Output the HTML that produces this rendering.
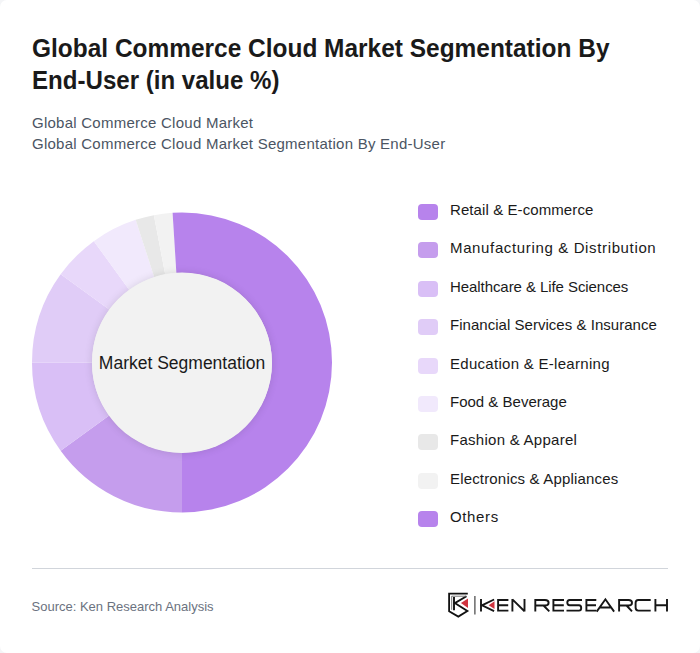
<!DOCTYPE html>
<html><head><meta charset="utf-8">
<style>
html,body{margin:0;padding:0;}
body{width:700px;height:653px;background:#f4f5f7;font-family:"Liberation Sans",sans-serif;position:relative;overflow:hidden;}
.card{position:absolute;left:0;top:0;width:700px;height:653px;background:#fff;border-radius:7px;}
.title{position:absolute;left:32px;top:32px;font-size:26px;font-weight:bold;line-height:32px;color:#1a1a1a;white-space:nowrap;transform-origin:0 0;}
.sub{position:absolute;left:32px;top:112px;font-size:15px;line-height:21px;color:#4b5563;white-space:nowrap;letter-spacing:0.25px;}
svg.abs{position:absolute;left:0;top:0;}
.center{position:absolute;left:92px;top:272.5px;width:180px;height:180px;border-radius:50%;background:#f2f2f2;box-shadow:0 0 8px rgba(0,0,0,0.12);}
.ctext{position:absolute;left:82px;top:353px;width:200px;text-align:center;font-size:17.5px;line-height:20px;color:#1a1a1a;}
.legend{position:absolute;left:418px;top:200px;}
.li{position:absolute;left:0;height:20px;white-space:nowrap;}
.sw{position:absolute;left:0;top:4px;width:20px;height:16px;border-radius:4px;}
.lt{position:absolute;left:32px;top:0;font-size:15px;line-height:20px;color:#1a1a1a;}
.sep{position:absolute;left:32px;top:568px;width:636px;height:1px;background:#d1d5db;}
.src{position:absolute;left:31.5px;top:599px;font-size:13px;line-height:16px;color:#6b7280;}
</style></head><body>
<div class="card"></div>
<div class="title" style="transform:scaleX(0.9405)">Global Commerce Cloud Market Segmentation By</div><div class="title" style="top:64px;transform:scaleX(0.926)">End-User (in value %)</div>
<div class="sub">Global Commerce Cloud Market<br>Global Commerce Cloud Market Segmentation By End-User</div>
<svg class="abs" width="700" height="653" viewBox="0 0 700 653">
<path d="M182.00 212.50A150 150 0 0 1 182.00 512.50L182.00 452.50A90 90 0 0 0 182.00 272.50Z" fill="#b783ec"/>
<path d="M182.00 512.50A150 150 0 0 1 60.65 450.67L109.19 415.40A90 90 0 0 0 182.00 452.50Z" fill="#c59ded"/>
<path d="M60.65 450.67A150 150 0 0 1 32.00 362.50L92.00 362.50A90 90 0 0 0 109.19 415.40Z" fill="#d9bff6"/>
<path d="M32.00 362.50A150 150 0 0 1 60.65 274.33L109.19 309.60A90 90 0 0 0 92.00 362.50Z" fill="#e0ccf7"/>
<path d="M60.65 274.33A150 150 0 0 1 93.83 241.15L129.10 289.69A90 90 0 0 0 109.19 309.60Z" fill="#e8d8fa"/>
<path d="M93.83 241.15A150 150 0 0 1 135.65 219.84L154.19 276.90A90 90 0 0 0 129.10 289.69Z" fill="#f1e9fc"/>
<path d="M135.65 219.84A150 150 0 0 1 153.89 215.16L165.14 274.09A90 90 0 0 0 154.19 276.90Z" fill="#e8e8e8"/>
<path d="M153.89 215.16A150 150 0 0 1 172.58 212.80L176.35 272.68A90 90 0 0 0 165.14 274.09Z" fill="#f2f2f2"/>
<path d="M172.58 212.80A150 150 0 0 1 182.00 212.50L182.00 272.50A90 90 0 0 0 176.35 272.68Z" fill="#b783ec"/>
</svg>
<div class="center"></div>
<div class="ctext">Market Segmentation</div>
<div class="legend">
<div class="li" style="top:0px"><div class="sw" style="background:#b783ec"></div><div class="lt" style="letter-spacing:0.09px">Retail &amp; E-commerce</div></div>
<div class="li" style="top:38.4px"><div class="sw" style="background:#c59ded"></div><div class="lt" style="letter-spacing:0.64px">Manufacturing &amp; Distribution</div></div>
<div class="li" style="top:76.8px"><div class="sw" style="background:#d9bff6"></div><div class="lt" style="letter-spacing:-0.07px">Healthcare &amp; Life Sciences</div></div>
<div class="li" style="top:115.2px"><div class="sw" style="background:#e0ccf7"></div><div class="lt" style="letter-spacing:0.03px">Financial Services &amp; Insurance</div></div>
<div class="li" style="top:153.6px"><div class="sw" style="background:#e8d8fa"></div><div class="lt" style="letter-spacing:0.29px">Education &amp; E-learning</div></div>
<div class="li" style="top:192px"><div class="sw" style="background:#f1e9fc"></div><div class="lt">Food &amp; Beverage</div></div>
<div class="li" style="top:230.4px"><div class="sw" style="background:#e8e8e8"></div><div class="lt" style="letter-spacing:0.27px">Fashion &amp; Apparel</div></div>
<div class="li" style="top:268.8px"><div class="sw" style="background:#f2f2f2"></div><div class="lt" style="letter-spacing:0.17px">Electronics &amp; Appliances</div></div>
<div class="li" style="top:307.2px"><div class="sw" style="background:#b783ec"></div><div class="lt" style="letter-spacing:0.64px">Others</div></div>
</div>
<div class="sep"></div>
<div class="src">Source: Ken Research Analysis</div>
<svg class="abs" width="700" height="653" viewBox="0 0 700 653">
<g fill="none" stroke="#111" stroke-width="1.8" stroke-linejoin="miter">
<path d="M467.8 593.7H449.1V611.2L458.3 616.6L467.4 611L454.8 603.1L466.5 596.3"/>
<path d="M454 597V610.3" stroke-width="1.9"/>
</g>
<path d="M451.7 609.8V596.2H466" fill="none" stroke="#666" stroke-width="0.9"/>
<path d="M460.9 603.1L468 598.6V608Z" fill="#d0343f"/>
<path d="M474.9 596V614.6" stroke="#444" stroke-width="1.2"/>
<g fill="none" stroke="#161616" stroke-width="1.9">
<path d="M481 599V611.6"/>
<path d="M494.1 599.5L482 605.3L494.1 611.1"/>
<path d="M498.1 599V611.6M497.2 599.95H508.4M497.2 605.3H508.2M497.2 610.65H508.4"/>
<path d="M512.4 599V611.6M524.5 599V611.6M512.4 599.4L524.5 611.2"/>
<path d="M535.3 599V611.6M534.4 599.95H545Q548.6 599.95 548.6 602.7Q548.6 605.5 545 605.5H534.4M543.5 605.5L549.3 611.4"/>
<path d="M553.4 599V611.6M552.5 599.95H564M552.5 605.3H563.8M552.5 610.65H564"/>
<path d="M582 599.95H569.6Q567.3 599.95 567.3 602.6Q567.3 605.3 569.6 605.3H579Q581.2 605.3 581.2 608Q581.2 610.65 579 610.65H566.5"/>
<path d="M586.4 599V611.6M585.5 599.95H596.3M585.5 605.3H596M585.5 610.65H596.3"/>
<path d="M596.7 611.6L605.4 599.3L614.1 611.6M599.6 607.5H611.2"/>
<path d="M619.1 599V611.6M618.2 599.95H628.5Q632 599.95 632 602.7Q632 605.5 628.5 605.5H618.2M626.5 605.5L632 611.4"/>
<path d="M650.7 599.95H638.3Q635.6 599.95 635.6 602.8V607.6Q635.6 610.65 638.3 610.65H650.7"/>
<path d="M655.4 599V611.6M667 599V611.6M655.4 605.3H667"/>
</g>
<path d="M488.7 605.3L494.5 601.3V609Z" fill="#d0343f"/>
</svg>
</body></html>
